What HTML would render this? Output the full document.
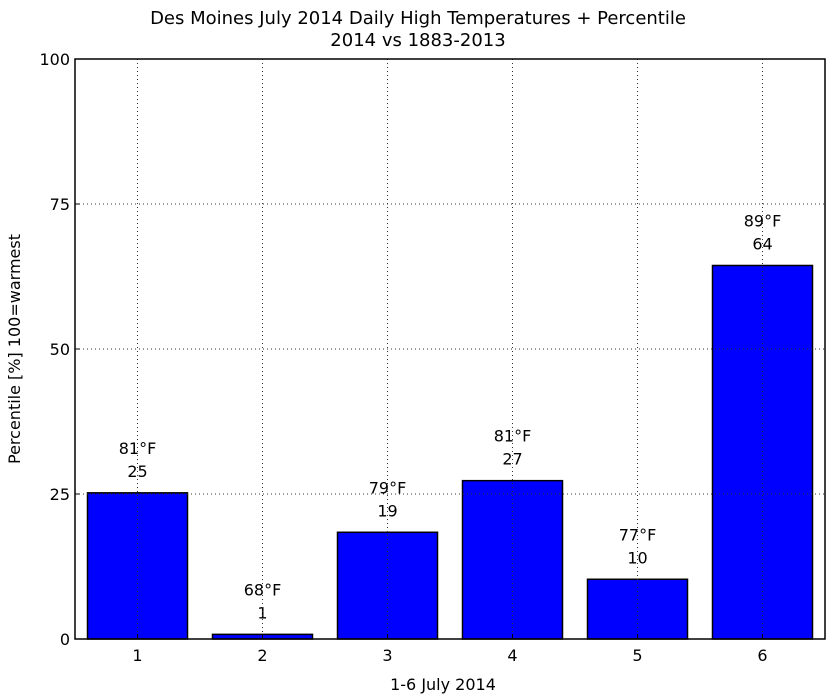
<!DOCTYPE html>
<html><head><meta charset="utf-8"><style>body{margin:0;background:#fff}svg{display:block;font-family:"DejaVu Sans","Liberation Sans",sans-serif}</style></head>
<body>
<svg id="chart" width="831" height="700">
<text x="418" y="24" font-size="18" text-anchor="middle">Des Moines July 2014 Daily High Temperatures + Percentile</text>
<text x="418" y="46" font-size="18" text-anchor="middle">2014 vs 1883-2013</text>
<g id="plot"></g>
<text x="443" y="690" font-size="16" text-anchor="middle">1-6 July 2014</text>
<text transform="translate(20,349) rotate(-90)" font-size="16" text-anchor="middle">Percentile [%] 100=warmest</text>
</svg>
<script>
const days=[1,2,3,4,5,6];
const percentiles=[25.2,0.8,18.4,27.3,10.3,64.4];
const pctLabels=["25","1","19","27","10","64"];
const temps=["81","68","79","81","77","89"];
const yTicks=[0,25,50,75,100];
const L=75,R=825,T=59,B=639;
const xs=v=>L+(v-0.5)*(R-L)/6;
const ys=v=>B-v*(B-T)/100;
const g=document.getElementById('plot');
const NS='http://www.w3.org/2000/svg';
function mk(t,a){const e=document.createElementNS(NS,t);for(const k in a)e.setAttribute(k,a[k]);g.appendChild(e);return e;}
days.forEach((d,i)=>{
 const r=mk('rect',{x:xs(d-0.4),y:ys(percentiles[i]),width:xs(d+0.4)-xs(d-0.4),height:B-ys(percentiles[i]),fill:'#0000ff',stroke:'#000','stroke-width':1.5});
 
 
 const t1=mk('text',{x:xs(d),y:ys(percentiles[i])-39,'font-size':16,'text-anchor':'middle'});
 t1.textContent=temps[i]+'°F';
 
 
 const t2=mk('text',{x:xs(d),y:ys(percentiles[i])-16,'font-size':16,'text-anchor':'middle'});
 t2.textContent=pctLabels[i];
 
 
});
days.forEach(d=>{
 const l=mk('line',{x1:xs(d),x2:xs(d),y1:T,y2:B,stroke:'#333','stroke-width':1,'stroke-dasharray':'1,3'});
 
 
 const tk=mk('line',{x1:xs(d),x2:xs(d),y1:B,y2:B-5,stroke:'#000'});
 
 
 const tl=mk('text',{x:xs(d),y:B+22,'font-size':16,'text-anchor':'middle'});
 tl.textContent=d;
 
 
});
yTicks.forEach(v=>{
 if(v>0&&v<100){const l=mk('line',{x1:L,x2:R,y1:ys(v),y2:ys(v),stroke:'#333','stroke-width':1,'stroke-dasharray':'1,3'});
 
 }
 const tk=mk('line',{x1:L,x2:L+5,y1:ys(v),y2:ys(v),stroke:'#000'});
 
 
 const tl=mk('text',{x:L-5,y:ys(v)+6,'font-size':16,'text-anchor':'end'});
 tl.textContent=v;
 
 
});
const f=mk('rect',{x:L,y:T,width:R-L,height:B-T,fill:'none',stroke:'#000','stroke-width':1.5});


</script>
</body></html>
